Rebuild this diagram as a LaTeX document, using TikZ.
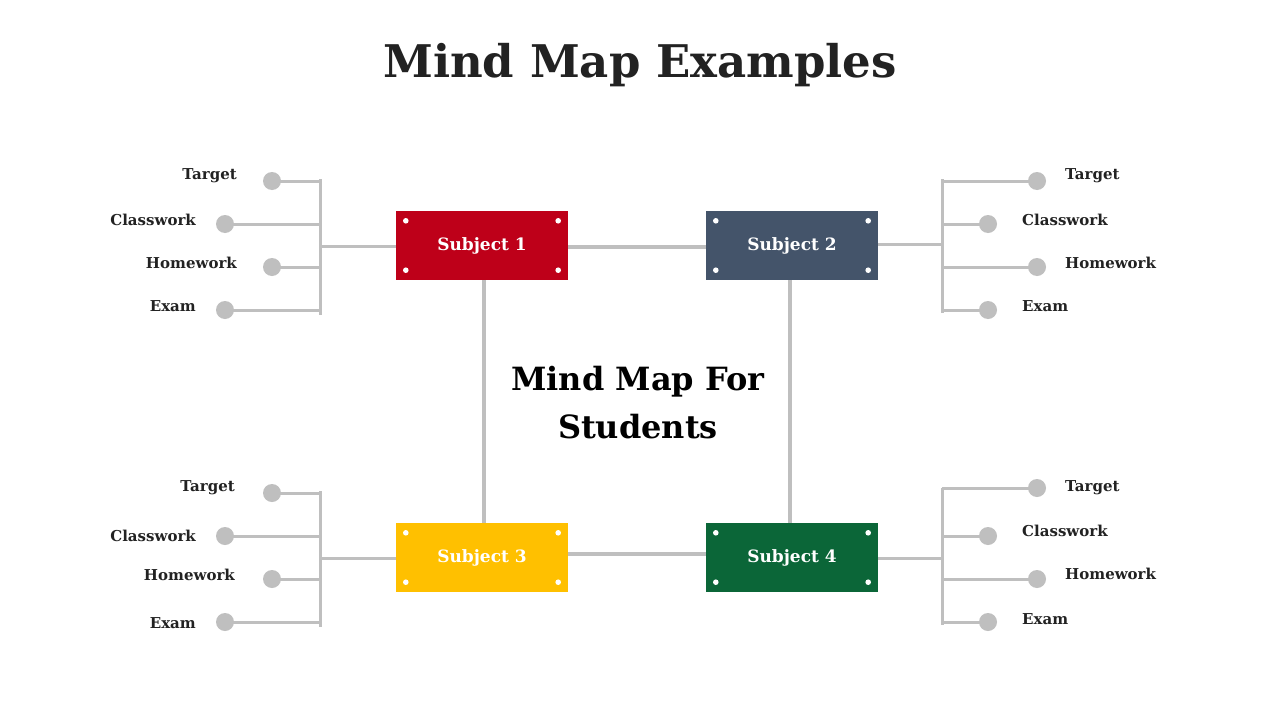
\documentclass[tikz,border=0pt]{standalone}
\usepackage{fontspec}
\setmainfont{DejaVu Serif}
\definecolor{sred}{HTML}{BE0019}
\definecolor{sslate}{HTML}{44546A}
\definecolor{syellow}{HTML}{FFC000}
\definecolor{sgreen}{HTML}{0B6638}
\definecolor{lgray}{HTML}{BFBFBF}
\definecolor{ink}{HTML}{222222}
\begin{document}
\begin{tikzpicture}[x=1pt,y=-1pt,
  subj/.style={minimum width=172pt,minimum height=69pt,inner sep=0pt,text=white,font=\bfseries\fontsize{17}{20}\selectfont},
  leaf/.style={circle,fill=lgray,minimum size=18pt,inner sep=0pt},
  lbl/.style={inner sep=0pt,text=ink,font=\bfseries\fontsize{15}{18}\selectfont},
  conn/.style={draw=lgray,line width=3.5pt},
  bus/.style={draw=lgray,line width=3pt},
  wdot/.style={fill=white}]
\useasboundingbox (0,0) rectangle (1280,720);
\fill[white] (0,0) rectangle (1280,720);
\node[text=ink,font=\bfseries\fontsize{45}{50}\selectfont] (title) at (640,65) {Mind Map Examples};
\node[align=center,font=\bfseries\fontsize{32}{48}\selectfont] (center) at (638,403) {Mind Map For\\Students};

% main connectors
\coordinate (v1t) at (484,280); \coordinate (v1b) at (484,523);
\coordinate (v2t) at (790,280); \coordinate (v2b) at (790,523);
\draw[conn] (568,247) -- (706,247);
\draw[conn] (568,554) -- (706,554);
\draw[conn] (v1t) -- (v1b);
\draw[conn] (v2t) -- (v2b);

% subject boxes
\node[subj,fill=sred] (s1) at (482,245.5) {\raisebox{2pt}{Subject 1}};
\node[subj,fill=sslate] (s2) at (792,245.5) {\raisebox{2pt}{Subject 2}};
\node[subj,fill=syellow] (s3) at (482,557.5) {\raisebox{2pt}{Subject 3}};
\node[subj,fill=sgreen] (s4) at (792,557.5) {\raisebox{2pt}{Subject 4}};
\foreach \s in {s1,s2,s3,s4}{
  \fill[wdot] ([shift={(10,10)}]\s.north west) circle (2.8pt);
  \fill[wdot] ([shift={(-10,10)}]\s.north east) circle (2.8pt);
  \fill[wdot] ([shift={(10,-10)}]\s.south west) circle (2.8pt);
  \fill[wdot] ([shift={(-10,-10)}]\s.south east) circle (2.8pt);
}

% ---------- branch 1 (left top)
\coordinate (b1t) at (320,179); \coordinate (b1b) at (320,315); \coordinate (b1m) at (320,246);
\draw[bus] (b1t) -- (b1b);
\draw[bus] (b1m) -- (s1.west|-b1m);
\node[leaf] (c11) at (272,181) {}; \node[leaf] (c12) at (225,224) {};
\node[leaf] (c13) at (272,267) {}; \node[leaf] (c14) at (225,310) {};
\foreach \c in {c11,c12,c13,c14} \draw[bus] (\c.center) -- (\c.center-|b1t);
\node[lbl,anchor=east] (l11) at (237,176) {Target};
\node[lbl,anchor=east] (l12) at (196,220) {Classwork};
\node[lbl,anchor=east] (l13) at (237,263) {Homework};
\node[lbl,anchor=east] (l14) at (196,306) {Exam};

% ---------- branch 2 (right top)
\coordinate (b2t) at (942,179); \coordinate (b2b) at (942,313); \coordinate (b2m) at (942,244);
\draw[bus] (b2t) -- (b2b);
\draw[bus] (s2.east|-b2m) -- (b2m);
\node[leaf] (c21) at (1037,181) {}; \node[leaf] (c22) at (988,224) {};
\node[leaf] (c23) at (1037,267) {}; \node[leaf] (c24) at (988,310) {};
\foreach \c in {c21,c22,c23,c24} \draw[bus] (\c.center) -- (\c.center-|b2t);
\node[lbl,anchor=west] (l21) at (1065,176) {Target};
\node[lbl,anchor=west] (l22) at (1022,220) {Classwork};
\node[lbl,anchor=west] (l23) at (1065,263) {Homework};
\node[lbl,anchor=west] (l24) at (1022,306) {Exam};

% ---------- branch 3 (left bottom)
\coordinate (b3t) at (320,491); \coordinate (b3b) at (320,627); \coordinate (b3m) at (320,558);
\draw[bus] (b3t) -- (b3b);
\draw[bus] (b3m) -- (s3.west|-b3m);
\node[leaf] (c31) at (272,493) {}; \node[leaf] (c32) at (225,536) {};
\node[leaf] (c33) at (272,579) {}; \node[leaf] (c34) at (225,622) {};
\foreach \c in {c31,c32,c33,c34} \draw[bus] (\c.center) -- (\c.center-|b3t);
\node[lbl,anchor=east] (l31) at (235,488) {Target};
\node[lbl,anchor=east] (l32) at (196,536) {Classwork};
\node[lbl,anchor=east] (l33) at (235,575) {Homework};
\node[lbl,anchor=east] (l34) at (196,623) {Exam};

% ---------- branch 4 (right bottom)
\coordinate (b4t) at (942,488); \coordinate (b4b) at (942,625); \coordinate (b4m) at (942,558);
\draw[bus] (b4t) -- (b4b);
\draw[bus] (s4.east|-b4m) -- (b4m);
\node[leaf] (c41) at (1037,488) {}; \node[leaf] (c42) at (988,536) {};
\node[leaf] (c43) at (1037,579) {}; \node[leaf] (c44) at (988,622) {};
\foreach \c in {c41,c42,c43,c44} \draw[bus] (\c.center) -- (\c.center-|b4t);
\node[lbl,anchor=west] (l41) at (1065,488) {Target};
\node[lbl,anchor=west] (l42) at (1022,531) {Classwork};
\node[lbl,anchor=west] (l43) at (1065,574) {Homework};
\node[lbl,anchor=west] (l44) at (1022,619) {Exam};
\end{tikzpicture}
\end{document}
